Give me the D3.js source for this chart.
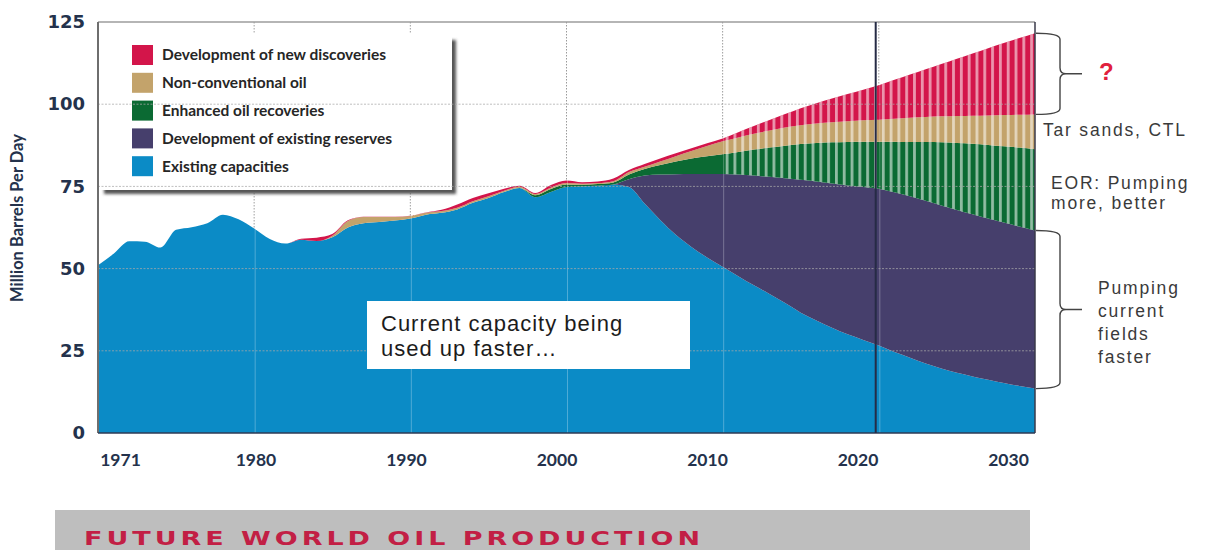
<!DOCTYPE html>
<html>
<head>
<meta charset="utf-8">
<script src="https://cdn.jsdelivr.net/npm/d3@7"></script>
<style>
  body { margin: 0; background: #fff; }
  svg { display: block; }
</style>
</head>
<body>
<svg id="chart" width="1213" height="550"></svg>
<script>
// data (million barrels per day)
const years = [1970, 1971, 1972, 1973, 1974, 1975, 1976, 1977, 1978, 1979,
  1980, 1981, 1982, 1983, 1984, 1985, 1986, 1987, 1988, 1989,
  1990, 1991, 1992, 1993, 1994, 1995, 1996, 1997, 1998, 1999,
  2000, 2001, 2002, 2003, 2004, 2005, 2006, 2007, 2008, 2009,
  2010, 2011, 2012, 2013, 2014, 2015, 2016, 2017, 2018, 2019,
  2020, 2021, 2022, 2023, 2024, 2025, 2026, 2027, 2028, 2029, 2030];

const existingCapacities = [51.0, 54.5, 58.3, 58.2, 56.4, 61.8, 62.6, 63.8, 66.4, 65.0,
  62.2, 59.0, 57.6, 58.8, 58.4, 59.5, 62.5, 63.8, 64.2, 64.6,
  65.2, 66.4, 67.0, 68.0, 70.0, 71.5, 73.3, 74.5, 71.7, 73.3,
  74.8, 75.0, 75.2, 75.6, 74.8, 69.8, 64.8, 60.3, 56.6, 53.4,
  50.6, 47.7, 44.9, 42.3, 39.5, 36.6, 34.2, 32.0, 30.0, 28.3,
  26.6, 24.6, 22.9, 21.1, 19.6, 18.3, 17.2, 16.2, 15.2, 14.3, 13.5];

const existingReserves = [0, 0, 0, 0, 0, 0, 0, 0, 0, 0,
  0, 0, 0, 0, 0, 0, 0, 0, 0, 0,
  0, 0, 0, 0, 0, 0, 0, 0, 0, 0,
  0, 0, 0, 0, 2.4, 8.5, 13.8, 18.4, 22.2, 25.4,
  28.2, 30.9, 33.4, 35.6, 38.0, 40.4, 42.3, 43.9, 45.3, 46.5,
  47.7, 48.6, 49.1, 49.5, 49.6, 49.5, 49.3, 49.0, 48.8, 48.5, 48.1];

const enhancedRecoveries = [0, 0, 0, 0, 0, 0, 0, 0, 0, 0,
  0, 0, 0, 0, 0, 0, 0, 0, 0, 0,
  0, 0, 0, 0, 0, 0, 0, 0, 0.6, 0.9,
  0.8, 0.5, 0.5, 0.6, 1.4, 2.0, 2.9, 3.9, 4.7, 5.4,
  6.0, 6.9, 7.9, 8.9, 9.9, 10.9, 11.7, 12.5, 13.2, 13.8,
  14.3, 15.4, 16.5, 17.9, 19.2, 20.4, 21.5, 22.4, 23.2, 24.0, 24.7];

const nonConventional = [0, 0, 0, 0, 0, 0, 0, 0, 0, 0,
  0, 0, 0, 0, 0, 0.5, 2.0, 1.9, 1.5, 1.1,
  0.8, 0.6, 0.5, 0.5, 0.5, 0.5, 0.4, 0.4, 0.4, 0.4,
  0.4, 0.3, 0.3, 0.4, 0.8, 0.7, 1.1, 1.6, 2.3, 3.1,
  3.9, 4.4, 4.8, 5.2, 5.5, 5.7, 5.9, 6.1, 6.3, 6.5,
  6.7, 7.0, 7.4, 7.6, 7.9, 8.2, 8.5, 9.0, 9.5, 10.0, 10.6];

const newDiscoveries = [0, 0, 0, 0, 0, 0, 0, 0, 0, 0,
  0, 0, 0, 0.3, 1.0, 0.5, 0.2, 0.1, 0.1, 0.1,
  0.1, 0.1, 0.4, 1.0, 1.0, 0.9, 0.6, 0.3, 0.3, 0.8,
  0.8, 0.5, 0.5, 0.8, 0.6, 0.8, 0.9, 0.9, 0.8, 0.8,
  0.9, 1.6, 2.4, 3.2, 4.1, 5.2, 6.2, 7.2, 8.3, 9.3,
  10.5, 11.8, 13.1, 14.5, 15.9, 17.4, 18.9, 20.4, 21.9, 23.3, 24.7];

const seriesKeys = ["existing", "reserves", "eor", "nonconv", "newdisc"];
const seriesLabels = ["Existing capacities", "Development of existing reserves",
  "Enhanced oil recoveries", "Non-conventional oil", "Development of new discoveries"];
const seriesColors = ["#0b8bc6", "#463f6c", "#0b6a33", "#c3a36b", "#d3154a"];

const yTicks = [0, 25, 50, 75, 100, 125];
const xTickYears = [1971, 1980, 1990, 2000, 2010, 2020, 2030];
const gridYears = [1980, 1990, 2000, 2010, 2020];
const gridValues = [25, 50, 75, 100];
const forecastYear = 2019.8;
const stripeFrom = 2010;

const svg = d3.select("#chart");

const x = d3.scaleLinear().domain([1970, 2030]).range([98, 1035]);
const y = d3.scaleLinear().domain([0, 125]).range([433, 22]);
// the printed year labels sit on a slightly different spacing than the grid
const xLabel = d3.scaleLinear().domain([1971, 2030]).range([120, 1008]);

const rows = years.map((yr, i) => ({
  year: yr,
  existing: existingCapacities[i],
  reserves: existingReserves[i],
  eor: enhancedRecoveries[i],
  nonconv: nonConventional[i],
  newdisc: newDiscoveries[i]
}));
const stacked = d3.stack().keys(seriesKeys)(rows);

const area = d3.area()
  .x(d => x(d.data.year))
  .y0(d => y(d[0]))
  .y1(d => y(d[1]))
  .curve(d3.curveMonotoneX);

const defs = svg.append("defs");
const stripeW = x(stripeFrom + 0.5) - x(stripeFrom);
const pat = defs.append("pattern")
  .attr("id", "stripes")
  .attr("patternUnits", "userSpaceOnUse")
  .attr("width", stripeW)
  .attr("height", 10)
  .attr("patternTransform", `translate(${x(stripeFrom) + 3},0)`);
pat.append("rect").attr("x", 0).attr("y", 0).attr("width", 2.8).attr("height", 10)
  .attr("fill", "#fff").attr("fill-opacity", 0.55);

const shadowBlur = defs.append("filter").attr("id", "blur");
shadowBlur.append("feGaussianBlur").attr("stdDeviation", 1.6);

// grey dotted grid, seen on the white part
const gridBack = svg.append("g");
gridBack.selectAll("line.v").data(gridYears).join("line")
  .attr("x1", d => x(d)).attr("x2", d => x(d))
  .attr("y1", y(125)).attr("y2", y(0))
  .attr("stroke", "#9a9a9a").attr("stroke-dasharray", "1.5,1.5");

// stacked areas
svg.append("g").selectAll("path").data(stacked).join("path")
  .attr("d", area)
  .attr("fill", (d, i) => seriesColors[i]);

// striped overlay on the forecast of the upper three layers
const upperRows = stacked[0].map((d, i) => ({
  year: d.data.year, lo: stacked[1][i][1], hi: stacked[4][i][1]
})).filter(d => d.year >= stripeFrom);
svg.append("path")
  .datum(upperRows)
  .attr("d", d3.area().x(d => x(d.year)).y0(d => y(d.lo)).y1(d => y(d.hi)).curve(d3.curveMonotoneX))
  .attr("fill", "url(#stripes)");

// faint grid over the coloured areas
const gridFront = svg.append("g").attr("stroke", "#ffffff").attr("stroke-opacity", 0.28);
gridFront.selectAll("line.v").data(gridYears).join("line")
  .attr("x1", d => x(d) + 1).attr("x2", d => x(d) + 1)
  .attr("y1", y(125)).attr("y2", y(0));

// legend box
const lg = svg.append("g");
lg.append("rect").attr("x", 104).attr("y", 40).attr("width", 352).attr("height", 154)
  .attr("fill", "#555").attr("filter", "url(#blur)");
lg.append("rect").attr("x", 98).attr("y", 34).attr("width", 354).attr("height", 156)
  .attr("fill", "#fff");
const legendOrder = [4, 3, 2, 1, 0];
const item = lg.selectAll("g.item").data(legendOrder).join("g")
  .attr("transform", (d, i) => `translate(132,${55 + i * 27.8})`);
item.append("rect").attr("x", 0).attr("y", -10).attr("width", 21).attr("height", 20)
  .attr("fill", d => seriesColors[d]);
item.append("text").attr("x", 30).attr("dy", "0.35em")
  .attr("font-family", "Lato, sans-serif").attr("font-weight", "bold").attr("font-size", 15.5)
  .attr("fill", "#262626")
  .text(d => seriesLabels[d]);

// horizontal grid
svg.append("g").selectAll("line").data(gridValues).join("line")
  .attr("x1", x(1970)).attr("x2", x(2030))
  .attr("y1", d => y(d)).attr("y2", d => y(d))
  .attr("stroke", "#a8a8a8").attr("stroke-opacity", 0.75)
  .attr("stroke-dasharray", "2,1.5");

// frame
svg.append("line").attr("x1", x(1970)).attr("x2", x(2030)).attr("y1", y(125)).attr("y2", y(125))
  .attr("stroke", "#9d9d9d").attr("stroke-width", 1.5);
svg.append("line").attr("x1", x(1970)).attr("x2", x(1970)).attr("y1", y(125)).attr("y2", y(0))
  .attr("stroke", "#6e6e6e").attr("stroke-width", 2);
svg.append("line").attr("x1", x(2030)).attr("x2", x(2030)).attr("y1", y(125)).attr("y2", y(0))
  .attr("stroke", "#3a3a4a").attr("stroke-width", 1.5);
svg.append("line").attr("x1", x(1970)).attr("x2", x(2030)).attr("y1", y(0)).attr("y2", y(0))
  .attr("stroke", "#2e3a55").attr("stroke-width", 1.5);
svg.append("line").attr("x1", x(forecastYear)).attr("x2", x(forecastYear))
  .attr("y1", y(125)).attr("y2", y(0))
  .attr("stroke", "#262b45").attr("stroke-width", 2);

// axes
const yAxis = svg.append("g").attr("transform", "translate(85,0)")
  .call(d3.axisLeft(y).tickValues(yTicks).tickSize(0).tickPadding(0));
yAxis.select(".domain").remove();
yAxis.selectAll("text")
  .attr("font-family", "DejaVu Sans, sans-serif").attr("font-weight", "bold")
  .attr("font-size", 18).attr("fill", "#24324c");

const xAxis = svg.append("g").attr("transform", "translate(0,454)")
  .call(d3.axisBottom(xLabel).tickValues(xTickYears).tickFormat(d3.format("d")).tickSize(0).tickPadding(0));
xAxis.select(".domain").remove();
xAxis.selectAll("text")
  .attr("font-family", "Lato, sans-serif").attr("font-weight", "bold")
  .attr("font-size", 17.5).attr("fill", "#24324c");

svg.append("text")
  .attr("transform", "translate(23,218) rotate(-90)")
  .attr("text-anchor", "middle")
  .attr("font-family", "Lato, sans-serif").attr("font-weight", "bold")
  .attr("font-size", 16.5).attr("fill", "#24324c")
  .text("Million Barrels Per Day");

// note box in the blue area
svg.append("rect").attr("x", 367).attr("y", 301).attr("width", 323).attr("height", 68)
  .attr("fill", "#fff");
svg.append("text")
  .attr("font-family", "Liberation Sans, Arial, sans-serif").attr("font-size", 22)
  .attr("letter-spacing", 1).attr("fill", "#1c1c1c")
  .selectAll("tspan").data(["Current capacity being", "used up faster…"]).join("tspan")
  .attr("x", 381).attr("y", (d, i) => 331 + i * 25)
  .text(d => d);

// braces and notes on the right
const last = years.length - 1;
function brace(yTop, yBot) {
  const x0 = x(2030) + 1, x1 = x(2030) + 25, r = 6;
  const ym = (yTop + yBot) / 2;
  return `M${x0},${yTop} Q${x1},${yTop} ${x1},${yTop + r} L${x1},${ym - r} ` +
    `Q${x1},${ym} ${x1 + r},${ym} Q${x1},${ym} ${x1},${ym + r} L${x1},${yBot - r} ` +
    `Q${x1},${yBot} ${x0},${yBot} M${x1 + r},${ym} L${x1 + 22},${ym}`;
}
const braceSpans = [
  [stacked[4][last][1], stacked[3][last][1]],
  [stacked[1][last][1], stacked[0][last][1]]
];
svg.append("g").selectAll("path").data(braceSpans).join("path")
  .attr("d", d => brace(y(d[0]), y(d[1])))
  .attr("fill", "none").attr("stroke", "#444").attr("stroke-width", 1.4);

svg.append("text").attr("x", 1099).attr("y", 80)
  .attr("font-family", "Liberation Sans, Arial, sans-serif").attr("font-weight", "bold")
  .attr("font-size", 24).attr("fill", "#e0203c").text("?");

const noteFont = "Liberation Sans, Arial, sans-serif";
const notes = [
  { x: 1043, ys: [136], lines: ["Tar sands, CTL"] },
  { x: 1051, ys: [189, 209], lines: ["EOR: Pumping", "more, better"] },
  { x: 1098, ys: [294, 317, 340, 363], lines: ["Pumping", "current", "fields", "faster"] }
];
notes.forEach(n => {
  svg.append("text")
    .attr("font-family", noteFont).attr("font-size", 17.5)
    .attr("letter-spacing", 1.8).attr("fill", "#3a3a3a")
    .selectAll("tspan").data(n.lines).join("tspan")
    .attr("x", n.x).attr("y", (d, i) => n.ys[i])
    .text(d => d);
});

// bottom title band (wide lettering: stretch glyphs horizontally)
svg.append("rect").attr("x", 55).attr("y", 510).attr("width", 975).attr("height", 40)
  .attr("fill", "#bebebe");
const titleStretch = 1.35;
svg.append("text")
  .attr("transform", `translate(84,545) scale(${titleStretch},1)`)
  .attr("font-family", "DejaVu Sans, sans-serif").attr("font-weight", "bold").attr("font-size", 20)
  .attr("textLength", 616 / titleStretch).attr("lengthAdjust", "spacing")
  .attr("fill", "#c21f45")
  .text("FUTURE WORLD OIL PRODUCTION");
</script>
</body>
</html>
